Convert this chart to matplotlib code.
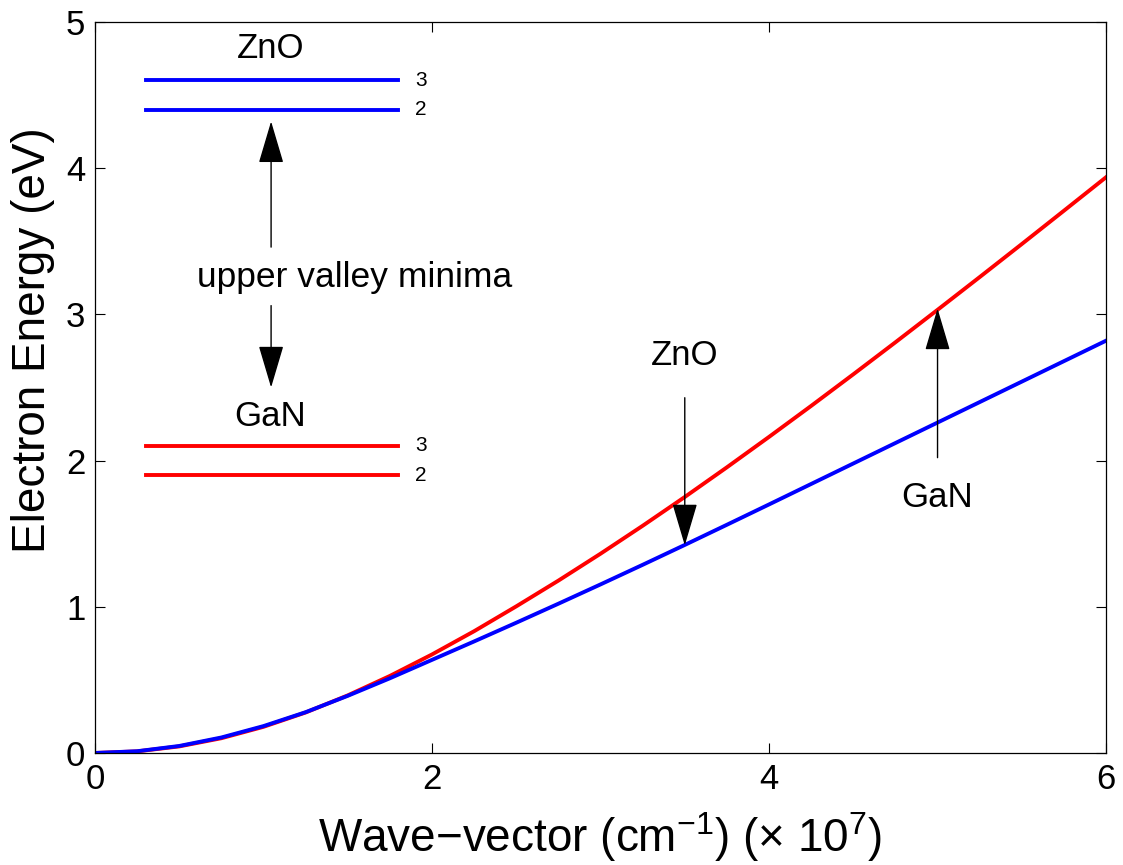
import numpy as np
import matplotlib.pyplot as plt

plt.rcParams['font.family'] = ['Liberation Sans', 'DejaVu Sans']
plt.rcParams['mathtext.fontset'] = 'custom'
plt.rcParams['mathtext.rm'] = 'Liberation Sans'
plt.rcParams['mathtext.it'] = 'Liberation Sans'

# wave-vector (x 1e7 cm^-1) and electron energy (eV)
k = [0, 0.25, 0.5, 0.75, 1.0, 1.25, 1.5, 1.75, 2.0, 2.25, 2.5, 2.75, 3.0,
     3.25, 3.5, 3.75, 4.0, 4.25, 4.5, 4.75, 5.0, 5.25, 5.5, 5.75, 6.0]
E_gan = [0, 0.011, 0.045, 0.101, 0.179, 0.277, 0.394, 0.527, 0.674, 0.833, 1.003,
         1.179, 1.363, 1.554, 1.751, 1.954, 2.162, 2.374, 2.590, 2.809, 3.031,
         3.255, 3.481, 3.709, 3.938]
E_zno = [0, 0.012, 0.048, 0.106, 0.184, 0.279, 0.391, 0.511, 0.637, 0.763, 0.891,
         1.021, 1.153, 1.287, 1.423, 1.561, 1.700, 1.840, 1.980, 2.120, 2.260,
         2.400, 2.540, 2.680, 2.820]

# upper valley minima (eV)
valley_labels = ['3', '2']
zno_valleys = [4.6, 4.4]
gan_valleys = [2.1, 1.9]
valley_x = [0.3, 1.8]

fig = plt.figure(figsize=(11.23, 8.65), dpi=100)
ax = fig.add_axes([0.0846, 0.1295, 0.9003, 0.8451])

ax.plot(k, E_gan, color=(1, 0, 0), lw=2.8, solid_joinstyle='round')
ax.plot(k, E_zno, color=(0, 0, 1), lw=2.8, solid_joinstyle='round')

for lab, e in zip(valley_labels, zno_valleys):
    ax.plot(valley_x, [e, e], color=(0, 0, 1), lw=2.8)
    ax.text(1.9, e, lab, fontsize=15, va='center', ha='left')
for lab, e in zip(valley_labels, gan_valleys):
    ax.plot(valley_x, [e, e], color=(1, 0, 0), lw=2.8)
    ax.text(1.9, e, lab, fontsize=15, va='center', ha='left')

ax.text(1.04, 4.82, 'ZnO', fontsize=25, ha='center', va='center')
ax.text(1.04, 2.30, 'GaN', fontsize=25, ha='center', va='center')
ax.text(1.54, 3.25, 'upper valley minima', fontsize=25.5, ha='center', va='center')
ax.text(3.5, 2.72, 'ZnO', fontsize=25, ha='center', va='center')
ax.text(5.0, 1.75, 'GaN', fontsize=25, ha='center', va='center')

arrow = dict(arrowstyle='-|>,head_length=1.35,head_width=0.4', color='k',
             lw=1.0, mutation_scale=20, shrinkA=0, shrinkB=0)
ax.annotate('', xy=(1.045, 4.32), xytext=(1.045, 3.46), arrowprops=arrow)
ax.annotate('', xy=(1.045, 2.50), xytext=(1.045, 3.06), arrowprops=arrow)
ax.annotate('', xy=(3.5, 1.42), xytext=(3.5, 2.43), arrowprops=arrow)
ax.annotate('', xy=(5.0, 3.04), xytext=(5.0, 2.02), arrowprops=arrow)

ax.set_xlim(0, 6)
ax.set_ylim(0, 5)
ax.set_xticks([0, 2, 4, 6])
ax.set_yticks([0, 1, 2, 3, 4, 5])
ax.tick_params(direction='in', length=7, width=0.8, labelsize=25,
               top=True, right=True, pad=7)
for s in ax.spines.values():
    s.set_linewidth(0.9)

ax.set_xlabel('Wave\u2212vector (cm$^{-1}$) (\u00d7 10$^{7}$)', fontsize=33)
ax.xaxis.set_label_coords(0.5, -0.078)
ax.set_ylabel('Electron Energy (eV)', fontsize=33, va='center')
ax.yaxis.set_label_coords(-0.061, 0.565)

fig.savefig('out.png', dpi=100)
